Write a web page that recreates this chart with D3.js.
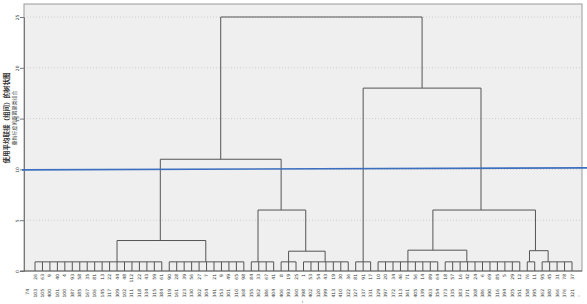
<!DOCTYPE html>
<html><head><meta charset="utf-8">
<script src="https://cdn.jsdelivr.net/npm/d3@7"></script>
<style>body{margin:0;background:#fff}svg{display:block}</style>
</head><body>
<svg id="c" width="587" height="304"></svg>
<script>
// ---------- data ----------
const yTicks = [0, 5, 10, 15, 20, 25];
const row1Labels = ["26","63","9","40","4","93","58","35","81","13",
 "22","44","48","112","22","43","59","61","90","28",
 "39","56","27","7","21","9","49","65","98","84",
 "33","67","41","8","19","25","1","53","54","43",
 "19","30","36","81","91","17","10","20","34","46",
 "71","56","14","89","64","18","57","16","42","24",
 "6","69","85","5","29","12","76","11","95","45",
 "31","78","37"];
const row2Labels = ["74","103","105","400","101","100","387","385","167","106",
 "145","317","309","102","311","318","334","315","384","319",
 "161","323","330","302","304","341","353","301","310","368",
 "355","362","386","404","406","393","360","398","402","320",
 "399","413","410","322","327","337","331","329","397","372",
 "313","361","405","339","403","354","373","335","383","371",
 "308","386","390","316","394","305","351","358","395","362",
 "380","366","376","321"];
// leaf groups (leaf index ranges), merge height, and group centre in leaf-index units
const groupIds   = ["A","B","C","D","E","F","G","H","I","J"];
const groupFrom  = [0, 18, 29, 33, 36, 43, 46, 55, 66, 68];
const groupTo    = [17, 28, 32, 35, 42, 45, 54, 65, 67, 72];
const groupH     = [0.9, 0.9, 0.9, 0.9, 0.9, 0.9, 0.9, 0.9, 0.9, 0.9];
const groupC     = [11.0, 22.9, 29.9, 34, 38.9, 44, 50, 57.9, 66.3, 68.8];
// internal merges: children, height, centre (leaf-index units)
const mergeIds   = ["N1","N2","N3","N4","N5","N6","N7","N8","R"];
const mergeA     = ["A","D","C","N1","G","I","N5","F","N4"];
const mergeB     = ["B","E","N2","N3","H","J","N6","N7","N8"];
const mergeH     = [3.0, 1.95, 6.0, 11.0, 2.05, 2.0, 6.0, 18.0, 25.0];
const mergeC     = [16.8, 36.3, 33.0, 24.9, 53.35, 67.1, 59.8, 51.9, 38.4];
const cutLine    = [9.95, 10.15]; // left, right value of blue line

// ---------- layout ----------
const svg = d3.select("#c");
const L = 24, R = 582, T = 4, B = 271;
const x = d3.scaleLinear().domain([0, 72]).range([35, 572]);
const y = d3.scaleLinear().domain([0, 25]).range([B, 17]);

svg.append("rect").attr("x", L).attr("y", T).attr("width", R - L).attr("height", B - T)
  .attr("fill", "#efefef").attr("stroke", "#9a9a9a").attr("stroke-width", 1);

// grid
svg.append("g").selectAll("line").data(yTicks.filter(d => d > 0)).join("line")
  .attr("x1", L).attr("x2", R).attr("y1", d => y(d)).attr("y2", d => y(d))
  .attr("stroke", "#cfcfcf").attr("stroke-dasharray", "1,2").attr("stroke-width", 1);

// y axis
const yAxis = d3.axisLeft(y).tickValues(yTicks).tickSize(4).tickFormat(d3.format("d"));
const ga = svg.append("g").attr("transform", `translate(${L},0)`).call(yAxis);
ga.select(".domain").attr("stroke", "#777");
ga.selectAll(".tick line").attr("stroke", "#777");
ga.selectAll(".tick text").attr("font-family", "DejaVu Sans, sans-serif").attr("font-size", 4.5)
  .attr("fill", "#444").attr("text-anchor", "middle")
  .attr("x", 0).attr("y", 0).attr("dy", "0.35em")
  .attr("transform", "translate(-7,0) rotate(-90)");

// bottom axis line
svg.append("line").attr("x1", L - 4).attr("x2", R).attr("y1", B).attr("y2", B)
  .attr("stroke", "#666").attr("stroke-width", 1.2);

// ---------- dendrogram ----------
const nodes = {};
groupIds.forEach((id, i) => nodes[id] = { c: groupC[i], h: groupH[i] });
mergeIds.forEach((id, i) => nodes[id] = { c: mergeC[i], h: mergeH[i] });

const gD = svg.append("g").attr("stroke", "#555").attr("stroke-width", 1).attr("fill", "none");
groupIds.forEach((id, i) => {
  const idx = d3.range(groupFrom[i], groupTo[i] + 1);
  gD.selectAll(null).data(idx).join("line")
    .attr("x1", d => x(d)).attr("x2", d => x(d)).attr("y1", y(0)).attr("y2", y(groupH[i]));
  gD.append("line").attr("x1", x(groupFrom[i])).attr("x2", x(groupTo[i]))
    .attr("y1", y(groupH[i])).attr("y2", y(groupH[i]));
});
mergeIds.forEach((id, i) => {
  const a = nodes[mergeA[i]], b = nodes[mergeB[i]], h = mergeH[i];
  gD.append("path").attr("d",
    `M${x(a.c)},${y(a.h)}V${y(h)}H${x(b.c)}V${y(b.h)}`);
});

// cut line
svg.append("line").attr("x1", 22).attr("x2", 587)
  .attr("y1", y(cutLine[0])).attr("y2", y(cutLine[1]))
  .attr("stroke", "#3d6fbf").attr("stroke-width", 1.6);

// ---------- leaf labels ----------
svg.append("g").selectAll("text").data(row1Labels).join("text")
  .attr("transform", (d, i) => `translate(${x(i) + 1.5},${B + 3}) rotate(-90)`)
  .attr("text-anchor", "end").attr("font-size", 4.5).attr("fill", "#333")
  .attr("font-family", "DejaVu Sans, sans-serif").text(d => d);
svg.append("g").selectAll("text").data(row2Labels).join("text")
  .attr("transform", (d, i) => `translate(${x(i - 1) + 1.5},${B + 18}) rotate(-90)`)
  .attr("text-anchor", "end").attr("font-size", 4.5).attr("fill", "#333")
  .attr("font-family", "DejaVu Sans, sans-serif").text(d => d);
svg.append("text").attr("x", x(72.8)).attr("y", 298).attr("font-size", 5).attr("fill", "#555").text("°");
svg.append("text").attr("x", 302).attr("y", 302.5).attr("font-size", 4).attr("fill", "#555").text("i");

// ---------- y title ----------
svg.append("text").attr("transform", "translate(9,118) rotate(-90)").attr("text-anchor", "middle")
  .attr("font-family", "Noto Sans CJK SC, sans-serif").attr("font-size", 6.5).attr("font-weight", "bold")
  .attr("fill", "#333").text("使用平均联接（组间）的树状图");
svg.append("text").attr("transform", "translate(15.5,118) rotate(-90)").attr("text-anchor", "middle")
  .attr("font-family", "Noto Sans CJK SC, sans-serif").attr("font-size", 5)
  .attr("fill", "#444").text("重新标度的距离聚类组合");
</script>
</body></html>
